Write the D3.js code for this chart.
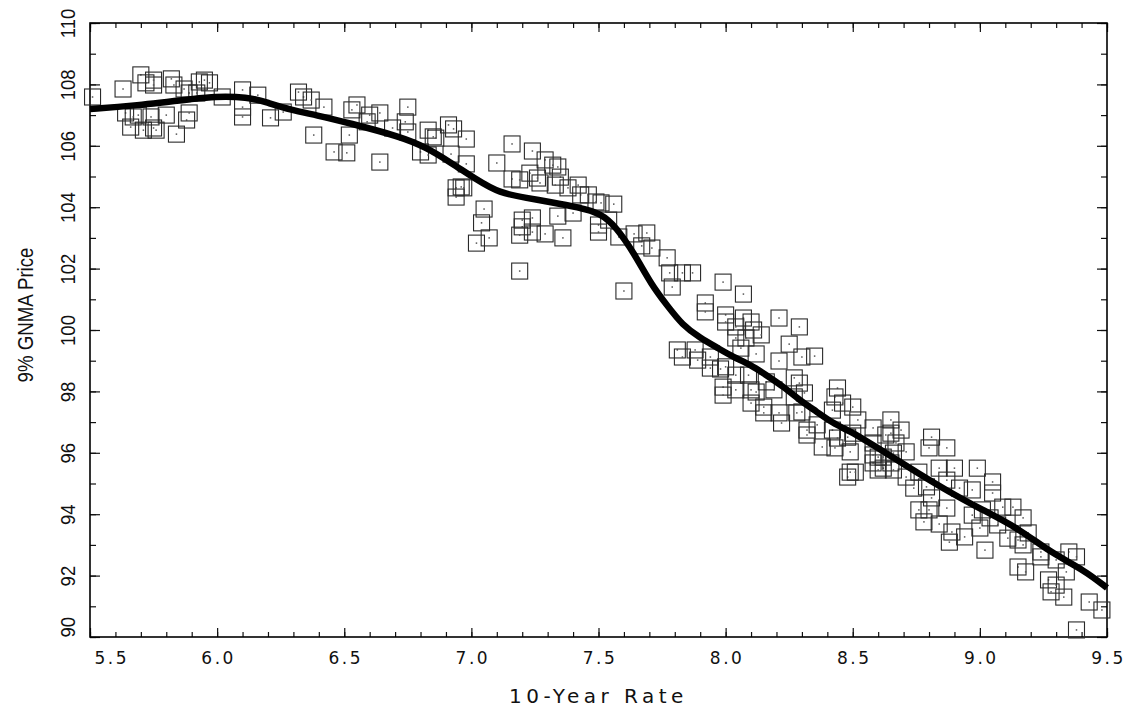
<!DOCTYPE html>
<html>
<head>
<meta charset="utf-8">
<script src="https://cdn.jsdelivr.net/npm/d3@7"></script>
<style>
  body { margin: 0; background: #fff; }
</style>
</head>
<body>
<svg id="chart" width="1132" height="707"></svg>
<script>
// observed weekly points: 10-year rate vs 9% GNMA price
const rates = [
  5.51, 5.63, 5.70, 5.72, 5.75, 5.75, 5.82, 5.83, 5.87, 5.89, 5.93, 5.95, 5.97, 5.92, 6.02, 6.10, 6.16,
  5.64, 5.67, 5.69, 5.74, 5.80, 5.66, 5.71, 5.75, 5.76, 5.84, 5.88, 5.89, 6.10, 6.21, 6.26, 6.10,
  6.32, 6.34, 6.37, 6.42, 6.38, 6.46, 6.51, 6.52, 6.55, 6.53, 6.64, 6.60, 6.64, 6.59, 6.69,
  6.75, 6.74, 6.75, 6.83, 6.85, 6.86, 6.91, 6.93, 6.98, 6.80, 6.83, 6.92, 6.98, 7.16, 7.24, 7.10,
  6.94, 6.96, 6.94, 6.97, 7.05, 7.04, 7.07, 7.02, 7.19, 7.16, 7.19, 7.23, 7.26, 7.27, 7.29, 7.32,
  7.34, 7.35, 7.33, 7.38, 7.42, 7.43, 7.46, 7.49, 7.51, 7.56, 7.34, 7.40, 7.20, 7.24, 7.20, 7.24,
  7.29, 7.19, 7.36, 7.50, 7.50, 7.54, 7.58, 7.64, 7.69, 7.67, 7.71, 7.77, 7.78, 7.83, 7.87, 7.79, 7.60,
  7.99, 8.07, 7.92, 7.92, 8.00, 8.00, 8.07, 8.04, 8.10, 8.11, 8.14, 8.04, 8.08, 8.21, 8.29, 8.25,
  8.06, 8.12, 8.21, 8.30, 8.35, 7.81, 7.83, 7.88, 7.89, 7.94, 7.94, 7.98, 8.00, 8.04, 8.09, 8.16,
  7.99, 7.99, 8.04, 8.10, 8.12, 8.19, 8.27, 8.29, 8.31, 8.27, 8.10, 8.15, 8.15, 8.21, 8.22, 8.28, 8.30,
  8.44, 8.43, 8.46, 8.50, 8.52, 8.42, 8.36, 8.32, 8.32, 8.42, 8.44, 8.48, 8.38, 8.43, 8.49,
  8.58, 8.58, 8.65, 8.65, 8.67, 8.60, 8.62, 8.58, 8.49, 8.48, 8.65,
  8.50, 8.51, 8.69, 8.63, 8.58, 8.62, 8.66, 8.71, 8.60, 8.66, 8.71, 8.76, 8.74, 8.79,
  8.81, 8.80, 8.87, 8.84, 8.90, 8.99, 8.87, 8.92, 8.97, 9.05, 9.05, 8.81, 8.76, 8.80, 8.87,
  8.78, 8.84, 8.89, 8.88, 8.94, 8.97, 9.01, 9.04, 9.09, 9.13, 9.17, 9.07, 9.00, 9.11, 9.15, 9.19,
  9.02, 9.17, 9.24, 9.24, 9.30, 9.35, 9.38, 9.34, 9.15, 9.18, 9.27, 9.30, 9.28, 9.33, 9.43, 9.48, 9.38
];
const prices = [
  107.59, 107.85, 108.31, 108.05, 108.14, 107.98, 108.18, 107.98, 107.85, 107.72, 108.08, 108.14, 108.05, 107.72, 107.59, 107.82, 107.65,
  107.07, 106.94, 107.00, 106.94, 107.00, 106.61, 106.51, 106.58, 106.51, 106.38, 106.84, 107.07, 106.94, 106.91, 107.10, 107.26,
  107.75, 107.59, 107.49, 107.26, 106.35, 105.80, 105.77, 106.35, 107.33, 107.17, 107.07, 107.00, 105.47, 106.78, 106.58,
  107.26, 106.78, 106.45, 106.51, 106.29, 106.25, 106.68, 106.55, 106.22, 105.80, 105.70, 105.73, 105.41, 106.06, 105.83, 105.44,
  104.63, 104.66, 104.33, 104.63, 103.94, 103.49, 103.00, 102.83, 101.92, 104.92, 104.89, 105.11, 104.95, 104.79, 105.54, 105.37,
  105.31, 104.98, 104.72, 104.63, 104.72, 104.40, 104.40, 104.17, 104.14, 104.10, 103.71, 103.81, 103.58, 103.65, 103.36, 103.19,
  103.13, 103.09, 103.00, 103.42, 103.19, 103.58, 103.03, 103.13, 103.16, 102.74, 102.67, 102.35, 101.86, 101.86, 101.86, 101.40, 101.27,
  101.56, 101.17, 100.88, 100.59, 100.49, 100.26, 100.39, 100.10, 100.26, 100.00, 99.84, 99.74, 99.74, 100.39, 100.10, 99.54,
  99.41, 99.22, 98.99, 99.12, 99.15, 99.35, 99.12, 99.35, 99.02, 99.12, 98.76, 98.73, 98.80, 98.53, 98.53, 98.31,
  98.14, 97.88, 98.05, 98.05, 97.98, 98.05, 98.44, 98.27, 97.95, 97.82, 97.62, 97.49, 97.30, 97.30, 96.97, 97.30, 97.33,
  98.11, 97.82, 97.62, 97.49, 97.07, 97.39, 96.91, 96.74, 96.58, 96.74, 96.48, 96.51, 96.19, 96.16, 96.03,
  96.81, 96.32, 97.07, 96.64, 96.32, 95.86, 95.50, 95.67, 95.37, 95.21, 95.67,
  96.64, 95.37, 96.74, 96.58, 95.93, 95.86, 95.99, 96.03, 95.44, 95.44, 95.21, 95.37, 94.85, 94.89,
  96.51, 96.16, 96.16, 95.50, 95.50, 95.50, 95.11, 94.85, 94.79, 95.05, 94.69, 94.53, 94.14, 94.14, 94.20,
  93.75, 93.68, 93.42, 93.09, 93.26, 93.97, 94.14, 93.88, 94.23, 94.23, 93.88, 93.65, 93.55, 93.22, 93.16, 93.39,
  92.83, 93.00, 92.77, 92.61, 92.51, 92.77, 92.61, 92.12, 92.28, 92.12, 91.86, 91.69, 91.47, 91.30, 91.14, 90.88, 90.23
];

// smoothed fit
const fitRates = [5.50, 5.67, 5.93, 5.98, 6.12, 6.20, 6.29, 6.39, 6.52, 6.72, 6.82, 6.92, 7.02, 7.11, 7.22, 7.31, 7.42, 7.51,
  7.57, 7.64, 7.71, 7.77, 7.83, 7.90, 7.97, 8.03, 8.10, 8.16, 8.23, 8.29, 8.36, 8.42, 8.49, 8.56, 8.62, 8.75, 8.88, 9.01, 9.15, 9.28, 9.41, 9.50];
const fitPrices = [107.2, 107.3, 107.55, 107.6, 107.6, 107.4, 107.17, 107.0, 106.74, 106.3, 105.96, 105.45, 104.9, 104.46, 104.3, 104.17, 104.0, 103.8,
  103.35, 102.5, 101.45, 100.8, 100.16, 99.74, 99.41, 99.12, 98.86, 98.53, 98.14, 97.72, 97.33, 96.97, 96.7, 96.35, 96.05, 95.37, 94.72, 94.14, 93.55, 92.74, 92.18, 91.6];

const xTicks = [5.5, 6.0, 6.5, 7.0, 7.5, 8.0, 8.5, 9.0, 9.5];
const yTicks = [90, 92, 94, 96, 98, 100, 102, 104, 106, 108, 110];

const svg = d3.select("#chart");
const plotLeft = 90, plotRight = 1107, plotTop = 23, plotBottom = 637;

const x = d3.scaleLinear().domain([5.5, 9.5]).range([plotLeft, plotRight]);
const y = d3.scaleLinear().domain([90, 110]).range([plotBottom, plotTop]);

const xMinor = x.ticks(40);
const yMinor = y.ticks(20);

function tidy(g) {
  g.select(".domain").remove();
  g.selectAll(".tick line").attr("stroke", "#111").attr("stroke-width", 1.2);
}

// minor ticks on all four sides
svg.append("g").attr("transform", `translate(0,${plotBottom})`)
  .call(d3.axisBottom(x).tickValues(xMinor).tickSize(-5).tickFormat("")).call(tidy);
svg.append("g").attr("transform", `translate(0,${plotTop})`)
  .call(d3.axisTop(x).tickValues(xMinor).tickSize(-5).tickFormat("")).call(tidy);
svg.append("g").attr("transform", `translate(${plotLeft},0)`)
  .call(d3.axisLeft(y).tickValues(yMinor).tickSize(-6).tickFormat("")).call(tidy);
svg.append("g").attr("transform", `translate(${plotRight},0)`)
  .call(d3.axisRight(y).tickValues(yMinor).tickSize(-6).tickFormat("")).call(tidy);

// major ticks + labels
const xAxis = svg.append("g").attr("transform", `translate(0,${plotBottom})`)
  .call(d3.axisBottom(x).tickValues(xTicks).tickSize(-9).tickPadding(15).tickFormat(d3.format(".1f")))
  .call(tidy);
xAxis.selectAll("text")
  .attr("fill", "#111")
  .style("font-family", "DejaVu Sans, sans-serif")
  .style("font-size", "17px")
  .style("letter-spacing", "2.5px")
  .attr("text-anchor", d => d === 5.5 ? "start" : "middle")
  .attr("x", d => d === 5.5 ? 4 : 1);

svg.append("g").attr("transform", `translate(0,${plotTop})`)
  .call(d3.axisTop(x).tickValues(xTicks).tickSize(-9).tickFormat("")).call(tidy);

const yAxis = svg.append("g").attr("transform", `translate(${plotLeft},0)`)
  .call(d3.axisLeft(y).tickValues(yTicks).tickSize(-10).tickFormat(d3.format("d")))
  .call(tidy);
yAxis.selectAll("text")
  .attr("fill", "#111")
  .attr("x", null).attr("dy", null)
  .attr("transform", "translate(-15,0) rotate(-90) scale(0.88,1)")
  .attr("text-anchor", d => d === 90 ? "start" : "middle")
  .style("font-family", "Liberation Sans, Arial, sans-serif")
  .style("font-size", "21px");

svg.append("g").attr("transform", `translate(${plotRight},0)`)
  .call(d3.axisRight(y).tickValues(yTicks).tickSize(-10).tickFormat("")).call(tidy);

// frame
svg.append("rect")
  .attr("x", plotLeft).attr("y", plotTop)
  .attr("width", plotRight - plotLeft).attr("height", plotBottom - plotTop)
  .attr("fill", "none").attr("stroke", "#000").attr("stroke-width", 1.6);

// points
const pts = svg.append("g");
const s = 16;
rates.forEach((r, i) => {
  const px = x(r), py = y(prices[i]);
  pts.append("rect")
    .attr("x", px - s / 2).attr("y", py - s / 2)
    .attr("width", s).attr("height", s)
    .attr("fill", "none").attr("stroke", "#2a2a2a").attr("stroke-width", 1.1);
  pts.append("rect")
    .attr("x", px - 0.75).attr("y", py - 0.75)
    .attr("width", 1.5).attr("height", 1.5)
    .attr("fill", "#555");
});

// fitted curve
const line = d3.line()
  .x((d, i) => x(fitRates[i]))
  .y((d, i) => y(fitPrices[i]))
  .curve(d3.curveBasis);
svg.append("path")
  .attr("d", line(fitRates))
  .attr("fill", "none")
  .attr("stroke", "#000")
  .attr("stroke-width", 6.5);

// axis titles
svg.append("text")
  .attr("x", (plotLeft + plotRight) / 2).attr("y", 703)
  .attr("text-anchor", "middle")
  .style("font-family", "DejaVu Sans, sans-serif")
  .style("font-size", "20px")
  .style("letter-spacing", "4.5px")
  .attr("fill", "#111")
  .text("10-Year Rate");

svg.append("text")
  .attr("transform", "translate(33,315) rotate(-90) scale(0.85,1)")
  .attr("text-anchor", "middle")
  .style("font-family", "Liberation Sans, Arial, sans-serif")
  .style("font-size", "22px")
  .attr("fill", "#111")
  .text("9% GNMA Price");
</script>
</body>
</html>
